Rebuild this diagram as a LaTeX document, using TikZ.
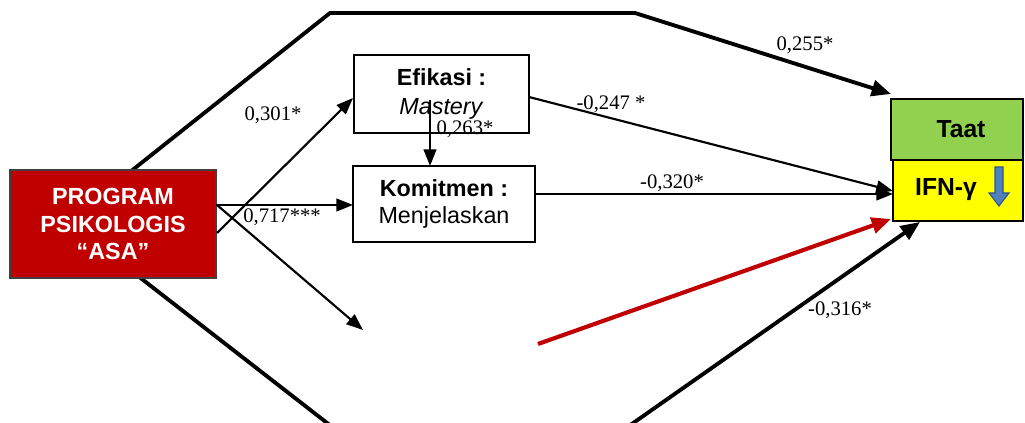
\documentclass[tikz,border=0pt]{standalone}
\usepackage{fontspec}
\setmainfont{Liberation Serif}
\newfontfamily\boxfont{Liberation Sans}
\usetikzlibrary{arrows.meta}
\definecolor{asared}{HTML}{C00000}
\definecolor{taatgreen}{HTML}{92D050}
\definecolor{ifnyellow}{HTML}{FFFF00}
\definecolor{downblue}{HTML}{4F81BD}
\definecolor{downedge}{HTML}{2F528F}
\definecolor{redline}{HTML}{C00000}
\tikzset{
  box/.style={draw, line width=1.1pt, inner sep=0pt, outer sep=0pt, align=center,
    font=\boxfont\fontsize{17.5}{20}\selectfont},
  lbl/.style={inner sep=0pt, font=\fontsize{15.5}{18}\selectfont},
  thinarrow/.style={line width=1.6pt, -{Triangle[length=12.5pt,width=9.5pt]}},
  thickarrow/.style={line width=2.9pt, -{Triangle[length=14.5pt,width=12pt]}},
}
\begin{document}
\begin{tikzpicture}[x=0.75pt,y=-0.75pt]
\useasboundingbox (0,0) rectangle (1025,423);
\clip (0,0) rectangle (1025,423);

% free ends of the outer paths
\coordinate (topstart) at (130,172);
\coordinate (topa) at (330,13);
\coordinate (topb) at (635,13);
\coordinate (toptip) at (891,94);
\coordinate (botstart) at (138,276);
\coordinate (bota) at (349,440);
\coordinate (botb) at (609,440);
\coordinate (bottip) at (920,222);

% outer direct paths (drawn under the boxes)
\draw[thickarrow, line join=miter] (topstart) -- (topa) -- (topb) -- (toptip);
\draw[thickarrow, line join=miter] (botstart) -- (bota) -- (botb) -- (bottip);

% boxes
\node[box, fill=asared, draw=black!75, text=white, minimum width=154.5pt, minimum height=81pt,
  font=\boxfont\bfseries\fontsize{17.5}{20.3}\selectfont] (asa) at (113,224)
  {PROGRAM\\PSIKOLOGIS\\“ASA”};
\node[box, fill=white, minimum width=131.25pt, minimum height=58.5pt,
  font=\boxfont\fontsize{17.5}{21.5}\selectfont] (efi) at (441.5,94)
  {\textbf{Efikasi :}\\\textit{Mastery}};
\node[box, fill=white, minimum width=136.5pt, minimum height=57pt] (kom) at (444,204)
  {\textbf{Komitmen :}\\Menjelaskan};
\node[box, fill=taatgreen, minimum width=99pt, minimum height=45.75pt] (taat) at (957,129.5) {};
\node[box, fill=ifnyellow, minimum width=97.5pt, minimum height=45.75pt] (ifn) at (958,190.5) {};
\node[inner sep=0pt, font=\boxfont\bfseries\fontsize{18.5}{22}\selectfont] (taattext) at (961,129) {Taat};
\node[inner sep=0pt, font=\boxfont\bfseries\fontsize{18.5}{22}\selectfont] (ifntext) at (946,190) {IFN-γ};

% downward block arrow in the IFN box
\draw[fill=downblue, draw=downedge, line width=0.8pt]
  (995,167) -- (1003,167) -- (1003,193) -- (1009,193) -- (999,206) -- (989,193) -- (995,193) -- cycle;

% free ends of the programme arrows
\coordinate (s1) at (217,233);
\coordinate (s2) at (216,205);
\coordinate (s3) at (217,205);
\coordinate (efitip) at (353,98);
\coordinate (empty) at (363,330);
\coordinate (efistart) at (430,100);
\coordinate (efiout) at (529,97);
\coordinate (ifnin1) at (893,191);
\coordinate (komout) at (535,194);
\coordinate (ifnin2) at (893,194);
\coordinate (redstart) at (538,344);
\coordinate (redtip) at (891,219);

\draw[thinarrow] (s1) -- (efitip);
\draw[thinarrow] (s2) -- (s2 -| kom.west);
\draw[thinarrow] (s3) -- (empty);
\draw[thinarrow] (efistart) -- (efistart |- kom.north);
\draw[thinarrow] (efiout) -- (ifnin1);
\draw[thinarrow] (komout) -- (ifnin2);
\draw[line width=3.1pt, draw=redline, -{Triangle[length=14.5pt,width=12pt]}] (redstart) -- (redtip);

% path coefficients
\node[lbl] (l255) at (805,45) {0,255*};
\node[lbl] (l301) at (273,115) {0,301*};
\node[lbl] (l247) at (611,104) {-0,247 *};
\node[lbl] (l263) at (465,129) {0,263*};
\node[lbl] (l320) at (672,183) {-0,320*};
\node[lbl] (l717) at (282,217) {0,717***};
\node[lbl] (l316) at (840,310) {-0,316*};
\end{tikzpicture}
\end{document}
